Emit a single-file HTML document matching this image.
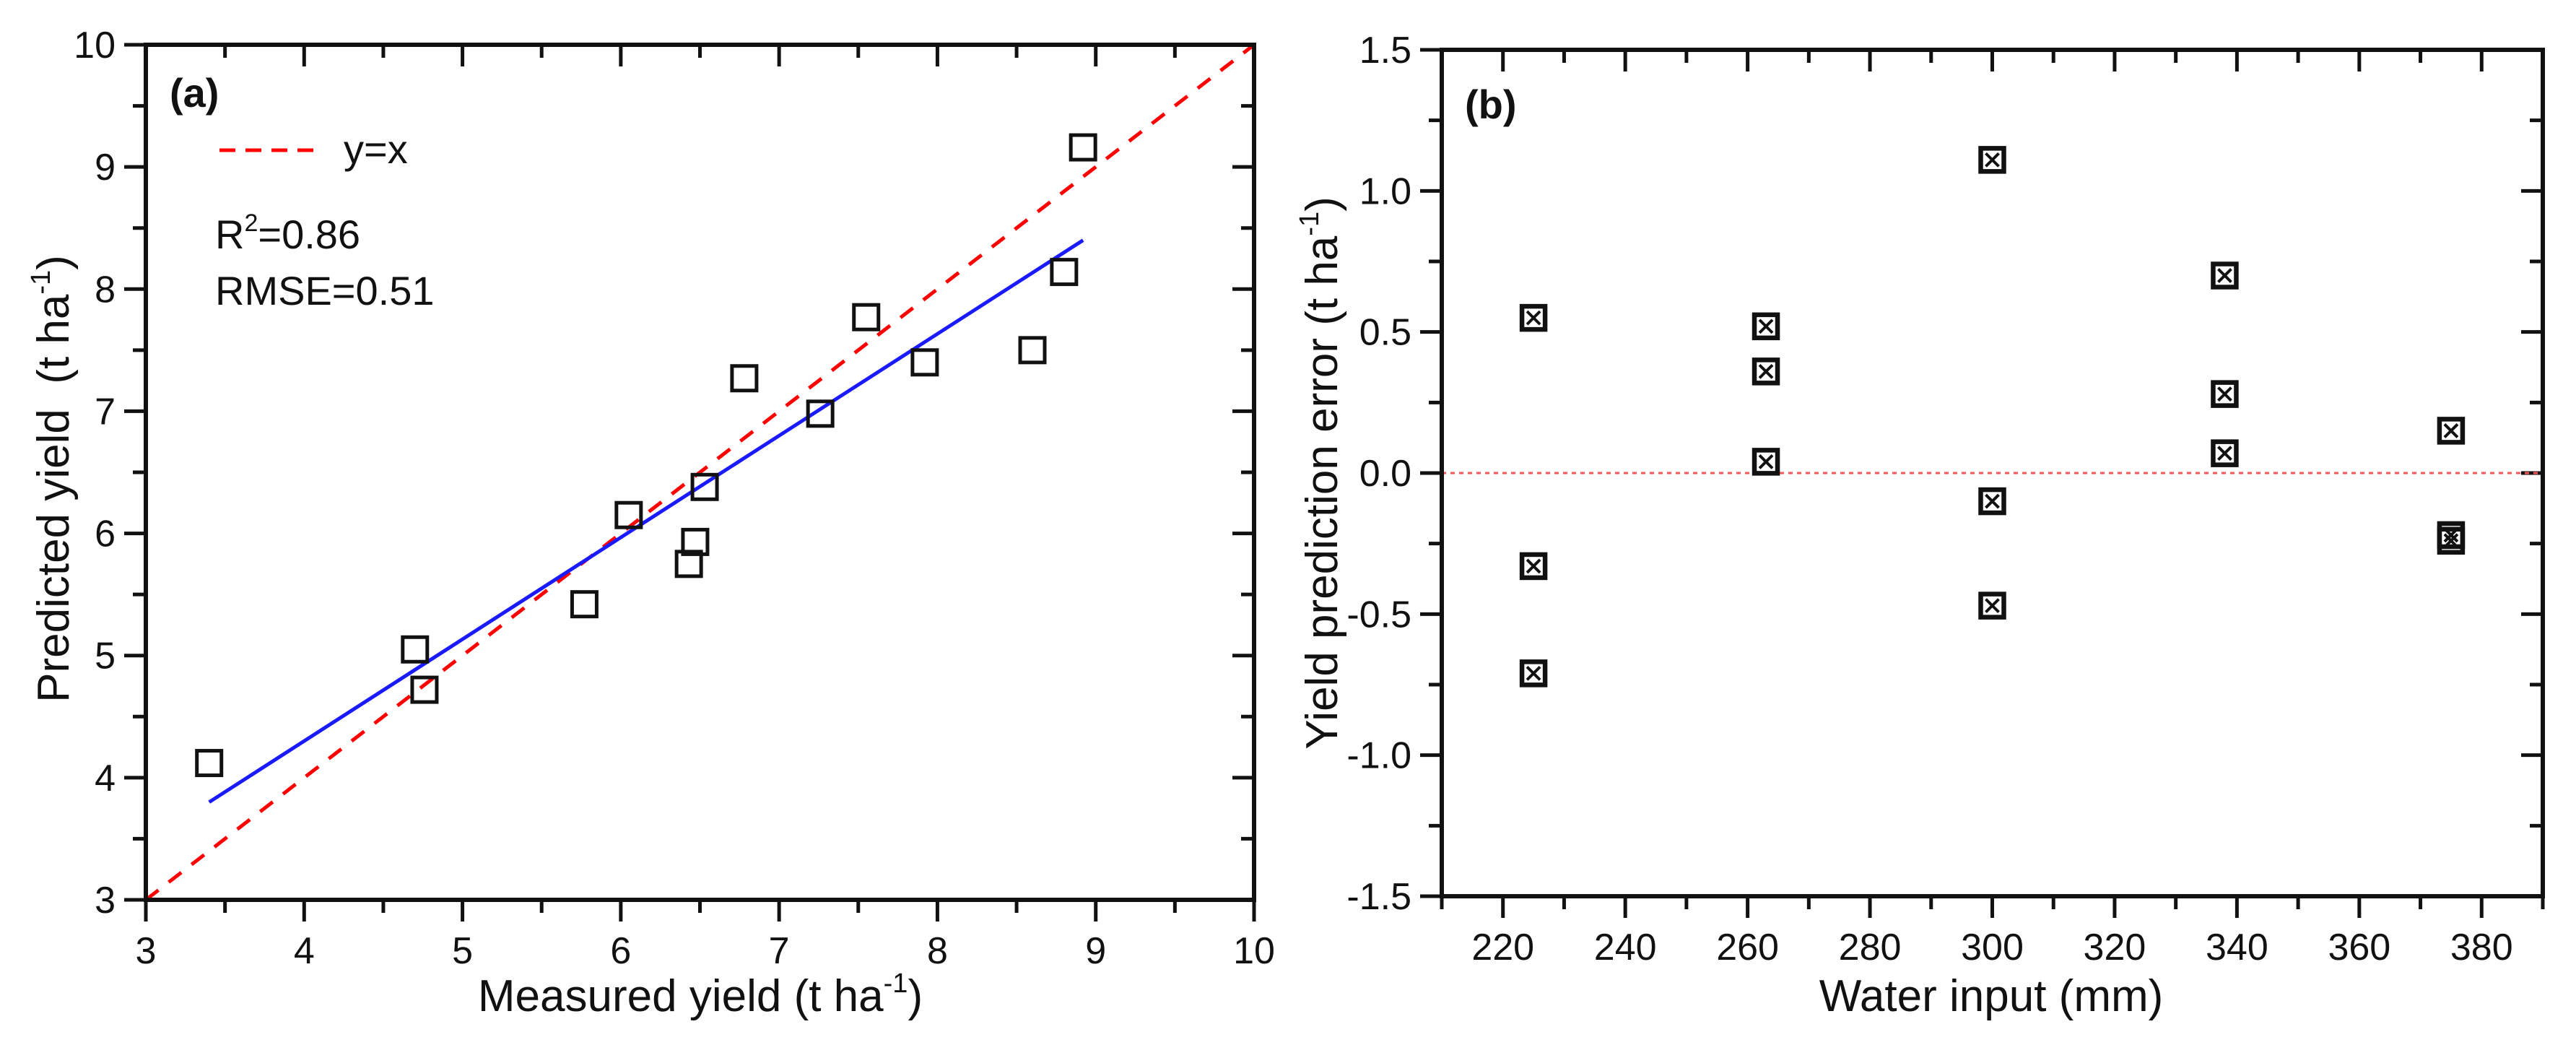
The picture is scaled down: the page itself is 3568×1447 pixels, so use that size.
<!DOCTYPE html>
<html><head><meta charset="utf-8"><style>
html,body{margin:0;padding:0;background:#fff;}
svg{display:block;}
text{font-family:"Liberation Sans",Arial,sans-serif;fill:#111;}
</style></head><body>
<svg id="chart" width="3568" height="1447" viewBox="0 0 3568 1447" xmlns="http://www.w3.org/2000/svg"></svg>
<script>
// Panel (a) data
const measuredYield = [3.40,4.70,4.76,5.77,6.05,6.43,6.47,6.53,6.78,7.26,7.55,7.92,8.60,8.80,8.92];
const predictedYield = [4.12,5.05,4.72,5.42,6.15,5.75,5.93,6.38,7.27,6.98,7.77,7.40,7.50,8.14,9.16];
const fitStart = [3.40,3.80];
const fitEnd = [8.92,8.40];
const aTicks = [3,4,5,6,7,8,9,10];
// Panel (b) data
const waterInput = [225,225,225,263,263,263,300,300,300,338,338,338,375,375,375];
const predError = [0.55,-0.33,-0.71,0.52,0.36,0.04,1.11,-0.10,-0.47,0.70,0.28,0.07,0.15,-0.22,-0.24];
const bXTicks = [220,240,260,280,300,320,340,360,380];
const bYTicks = [-1.5,-1.0,-0.5,0.0,0.5,1.0,1.5];

const NS='http://www.w3.org/2000/svg';
const svg=document.getElementById('chart');
function mk(tag,attrs,parent){const e=document.createElementNS(NS,tag);for(const k in attrs)e.setAttribute(k,attrs[k]);(parent||svg).appendChild(e);return e;}

// ---------- Panel (a) ----------
const A={l:202,r:1737,t:62,b:1246,x0:3,x1:10,y0:3,y1:10};
const ax=v=>A.l+(v-A.x0)/(A.x1-A.x0)*(A.r-A.l);
const ay=v=>A.b-(v-A.y0)/(A.y1-A.y0)*(A.b-A.t);
const ga=mk('g',{});


for(let v=3;v<=10.001;v+=0.5){
  const major=Math.abs(v-Math.round(v))<1e-6;
  const L=major?30:18;
  let t=mk('line',{x1:ax(v),x2:ax(v),y1:A.b,y2:A.b+L,stroke:'#111','stroke-width':5},ga);
  
  t=mk('line',{x1:ax(v),x2:ax(v),y1:A.t,y2:A.t+L,stroke:'#111','stroke-width':5},ga);
  
  t=mk('line',{x1:A.l-L,x2:A.l,y1:ay(v),y2:ay(v),stroke:'#111','stroke-width':5},ga);
  
  t=mk('line',{x1:A.r-L,x2:A.r,y1:ay(v),y2:ay(v),stroke:'#111','stroke-width':5},ga);
  
}
aTicks.forEach(v=>{
  let t=mk('text',{x:ax(v),y:A.b+88,'font-size':52,'text-anchor':'middle'},ga);t.textContent=v;
  
  t=mk('text',{x:A.l-42,y:ay(v)+18,'font-size':52,'text-anchor':'end'},ga);t.textContent=v;
  
});
let e=mk('line',{x1:ax(3),y1:ay(3),x2:ax(10),y2:ay(10),stroke:'#f00','stroke-width':5,'stroke-dasharray':'22 18'},ga);

e=mk('line',{x1:ax(fitStart[0]),y1:ay(fitStart[1]),x2:ax(fitEnd[0]),y2:ay(fitEnd[1]),stroke:'#1a1aff','stroke-width':5},ga);

measuredYield.forEach((x,i)=>{
  const s=34;
  const p=mk('rect',{x:ax(x)-s/2,y:ay(predictedYield[i])-s/2,width:s,height:s,fill:'none',stroke:'#111','stroke-width':5},ga);
  
  
});
e=mk('rect',{x:A.l,y:A.t,width:A.r-A.l,height:A.b-A.t,fill:'none',stroke:'#111','stroke-width':6},ga);

e=mk('text',{x:235,y:148,'font-size':56,'font-weight':'bold','font-family':'Liberation Serif'},ga);e.textContent='(a)';

e=mk('line',{x1:304,x2:448,y1:208,y2:208,stroke:'#f00','stroke-width':5,'stroke-dasharray':'22 14'},ga);

e=mk('text',{x:476,y:226,'font-size':56},ga);e.textContent='y=x';

e=mk('text',{x:298,y:344,'font-size':56},ga);
e.innerHTML='R<tspan font-size="34" dy="-24">2</tspan><tspan dy="24">=0.86</tspan>';

e=mk('text',{x:298,y:422,'font-size':56},ga);e.textContent='RMSE=0.51';

e=mk('text',{x:970,y:1400,'font-size':62,'text-anchor':'middle'},ga);
e.innerHTML='Measured yield (t ha<tspan font-size="38" dy="-26">-1</tspan><tspan dy="26">)</tspan>';

e=mk('text',{x:0,y:0,'font-size':62,'text-anchor':'middle',transform:'translate(95,663) rotate(-90)'},ga);
e.innerHTML='Predicted yield \u00a0(t ha<tspan font-size="38" dy="-26">-1</tspan><tspan dy="26">)</tspan>';


// ---------- Panel (b) ----------
const B={l:1997,r:3522,t:69,b:1241,x0:210,x1:390,y0:-1.5,y1:1.5};
const bx=v=>B.l+(v-B.x0)/(B.x1-B.x0)*(B.r-B.l);
const by=v=>B.b-(v-B.y0)/(B.y1-B.y0)*(B.b-B.t);
const gb=mk('g',{});


for(let v=210;v<=390;v+=10){
  const major=(v%20===0);const L=major?30:18;
  let t=mk('line',{x1:bx(v),x2:bx(v),y1:B.b,y2:B.b+L,stroke:'#111','stroke-width':5},gb);
  
  t=mk('line',{x1:bx(v),x2:bx(v),y1:B.t,y2:B.t+L,stroke:'#111','stroke-width':5},gb);
  
}
for(let k=0;k<=12;k++){
  const v=-1.5+k*0.25;const major=(k%2===0);const L=major?30:18;
  let t=mk('line',{x1:B.l-L,x2:B.l,y1:by(v),y2:by(v),stroke:'#111','stroke-width':5},gb);
  
  t=mk('line',{x1:B.r-L,x2:B.r,y1:by(v),y2:by(v),stroke:'#111','stroke-width':5},gb);
  
}
bXTicks.forEach(v=>{
  const t=mk('text',{x:bx(v),y:B.b+88,'font-size':52,'text-anchor':'middle'},gb);t.textContent=v;
  
});
bYTicks.forEach(v=>{
  const t=mk('text',{x:B.l-42,y:by(v)+18,'font-size':52,'text-anchor':'end'},gb);t.textContent=v.toFixed(1);
  
});
e=mk('line',{x1:B.l,x2:B.r,y1:by(0),y2:by(0),stroke:'#f55','stroke-width':3,'stroke-dasharray':'6 6'},gb);

waterInput.forEach((x,i)=>{
  const s=32,cx=bx(x),cy=by(predError[i]);
  const g=mk('g',{},gb);
  
  
  mk('rect',{x:cx-s/2,y:cy-s/2,width:s,height:s,fill:'none',stroke:'#111','stroke-width':6.5},g);
  mk('path',{d:`M${cx-9} ${cy-9}L${cx+9} ${cy+9}M${cx+9} ${cy-9}L${cx-9} ${cy+9}`,stroke:'#111','stroke-width':4},g);
});
e=mk('rect',{x:B.l,y:B.t,width:B.r-B.l,height:B.b-B.t,fill:'none',stroke:'#111','stroke-width':6},gb);

e=mk('text',{x:2029,y:164,'font-size':56,'font-weight':'bold','font-family':'Liberation Serif'},gb);e.textContent='(b)';

e=mk('text',{x:2758,y:1400,'font-size':62,'text-anchor':'middle'},gb);e.textContent='Water input (mm)';

e=mk('text',{x:0,y:0,'font-size':62,'text-anchor':'middle',transform:'translate(1852,655) rotate(-90)'},gb);
e.innerHTML='Yield prediction error (t ha<tspan font-size="38" dy="-26">-1</tspan><tspan dy="26">)</tspan>';

</script>
</body></html>
